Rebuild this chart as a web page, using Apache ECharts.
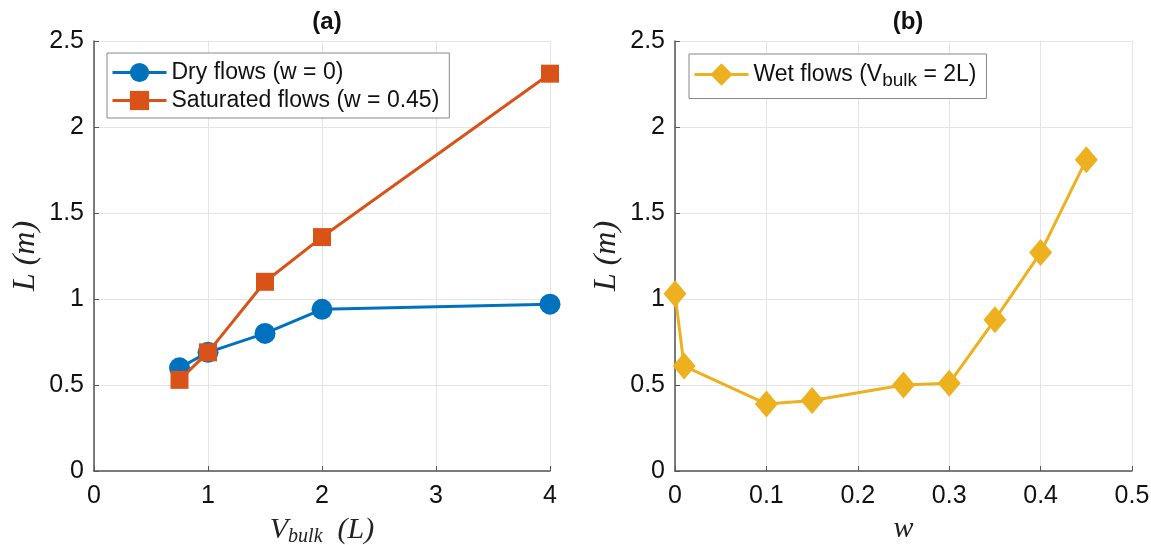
<!DOCTYPE html>
<html>
<head>
<meta charset="utf-8">
<script src="https://cdn.jsdelivr.net/npm/echarts@6/dist/echarts.min.js"></script>
<style>html,body{margin:0;padding:0;background:#fff;}#c{width:1151px;height:545px;}</style>
</head>
<body>
<div id="c"></div>
<script>
// Panel (a)
const vbulk = [0.75, 1, 1.5, 2, 4];
const dryL = [0.60, 0.69, 0.80, 0.94, 0.97];
const satL = [0.53, 0.69, 1.10, 1.36, 2.31];
// Panel (b)
const wVals = [0, 0.01, 0.10, 0.15, 0.25, 0.30, 0.35, 0.40, 0.45];
const wetL = [1.03, 0.61, 0.39, 0.41, 0.50, 0.51, 0.88, 1.27, 1.81];

const names = {
  dry: 'Dry flows (w = 0)',
  sat: 'Saturated flows (w = 0.45)',
  wet: 'Wet flows (V_bulk = 2L)'
};

const C_BLUE = '#0072BD', C_ORANGE = '#D95319', C_YELLOW = '#EDB120';
const SANS = 'Liberation Sans, Arial, Helvetica, sans-serif';
const SERIF = 'Liberation Serif, Times New Roman, serif';

function pairs(xs, ys) { return xs.map((x, i) => [x, ys[i]]); }

function xAxisCfg(gridIndex, min, max, interval, nameRich, nameStr) {
  return {
    type: 'value', gridIndex, min, max, interval,
    name: nameStr, nameLocation: 'middle', nameGap: 42,
    nameTextStyle: { fontFamily: SERIF, fontStyle: 'italic', fontSize: 30, color: '#222', rich: nameRich },
    axisLine: { show: true, lineStyle: { color: '#555', width: 1.5 } },
    axisTick: { show: true, inside: true, length: 5, lineStyle: { color: '#555' } },
    axisLabel: { fontFamily: SANS, fontSize: 25, color: '#111', margin: 13 },
    splitLine: { show: true, lineStyle: { color: '#e4e4e4', width: 1 } }
  };
}
function yAxisCfg(gridIndex) {
  return {
    type: 'value', gridIndex, min: 0, max: 2.5, interval: 0.5,
    name: 'L (m)', nameLocation: 'middle', nameGap: 52, nameRotate: 90,
    nameTextStyle: { fontFamily: SERIF, fontStyle: 'italic', fontSize: 32, color: '#222' },
    axisLine: { show: true, lineStyle: { color: '#555', width: 1.5 } },
    axisTick: { show: true, inside: true, length: 5, lineStyle: { color: '#555' } },
    axisLabel: { fontFamily: SANS, fontSize: 25, color: '#111', margin: 10 },
    splitLine: { show: true, lineStyle: { color: '#e4e4e4', width: 1 } }
  };
}

const legendBase = {
  orient: 'vertical',
  backgroundColor: '#fff',
  borderColor: '#888',
  borderWidth: 1,
  borderRadius: 0,
  itemWidth: 54,
  itemGap: 5,
  lineStyle: { width: 3 },
  textStyle: { fontFamily: SANS, fontSize: 23, color: '#111' }
};

const chart = echarts.init(document.getElementById('c'));
chart.setOption({
  animation: false,
  backgroundColor: '#fff',
  title: [
    { text: '(a)', left: 322, top: 5, textAlign: 'center',
      textStyle: { fontFamily: SANS, fontWeight: 'bold', fontSize: 24, color: '#111' } },
    { text: '(b)', left: 903, top: 5, textAlign: 'center',
      textStyle: { fontFamily: SANS, fontWeight: 'bold', fontSize: 24, color: '#111' } }
  ],
  grid: [
    { left: 94, right: 601, top: 41, bottom: 74, outerBoundsMode: 'none', containLabel: false },
    { left: 675, right: 19, top: 41, bottom: 74, outerBoundsMode: 'none', containLabel: false }
  ],
  legend: [
    Object.assign({}, legendBase, {
      data: [names.dry, names.sat], left: 107, top: 53,
      itemHeight: 24, padding: [8, 10, 6, 4]
    }),
    Object.assign({}, legendBase, {
      data: [names.wet], left: 689, top: 54,
      itemHeight: 28, padding: [9, 10, 8, 4],
      formatter: function () { return '{t|Wet flows (V}{s|bulk}{t| = 2L)}'; },
      textStyle: {
        fontFamily: SANS, fontSize: 23, color: '#111',
        rich: {
          t: { fontFamily: SANS, fontSize: 23, color: '#111' },
          s: { fontFamily: SANS, fontSize: 19, color: '#111', verticalAlign: 'bottom', padding: [13, 0, 0, 0] }
        }
      }
    })
  ],
  xAxis: [
    Object.assign(xAxisCfg(0, 0, 4, 1, {
      i: { fontFamily: SERIF, fontStyle: 'italic', fontSize: 30, color: '#222' },
      s: { fontFamily: SERIF, fontStyle: 'italic', fontSize: 20, color: '#222', padding: [14, 0, 0, 0] }
    }, '{i|V}{s|bulk}{i|  (L)}')),
    xAxisCfg(1, 0, 0.5, 0.1, {}, 'w')
  ],
  yAxis: [yAxisCfg(0), yAxisCfg(1)],
  series: [
    { name: names.dry, type: 'line', xAxisIndex: 0, yAxisIndex: 0,
      data: pairs(vbulk, dryL), symbol: 'circle', symbolSize: 21,
      lineStyle: { color: C_BLUE, width: 3 }, itemStyle: { color: C_BLUE }, z: 3 },
    { name: names.sat, type: 'line', xAxisIndex: 0, yAxisIndex: 0,
      data: pairs(vbulk, satL), symbol: 'rect', symbolSize: 18,
      lineStyle: { color: C_ORANGE, width: 3 }, itemStyle: { color: C_ORANGE }, z: 4 },
    { name: names.wet, type: 'line', xAxisIndex: 1, yAxisIndex: 1,
      data: pairs(wVals, wetL), symbol: 'diamond', symbolSize: [23, 27],
      lineStyle: { color: C_YELLOW, width: 3 }, itemStyle: { color: C_YELLOW }, z: 3 }
  ]
});
</script>
</body>
</html>
